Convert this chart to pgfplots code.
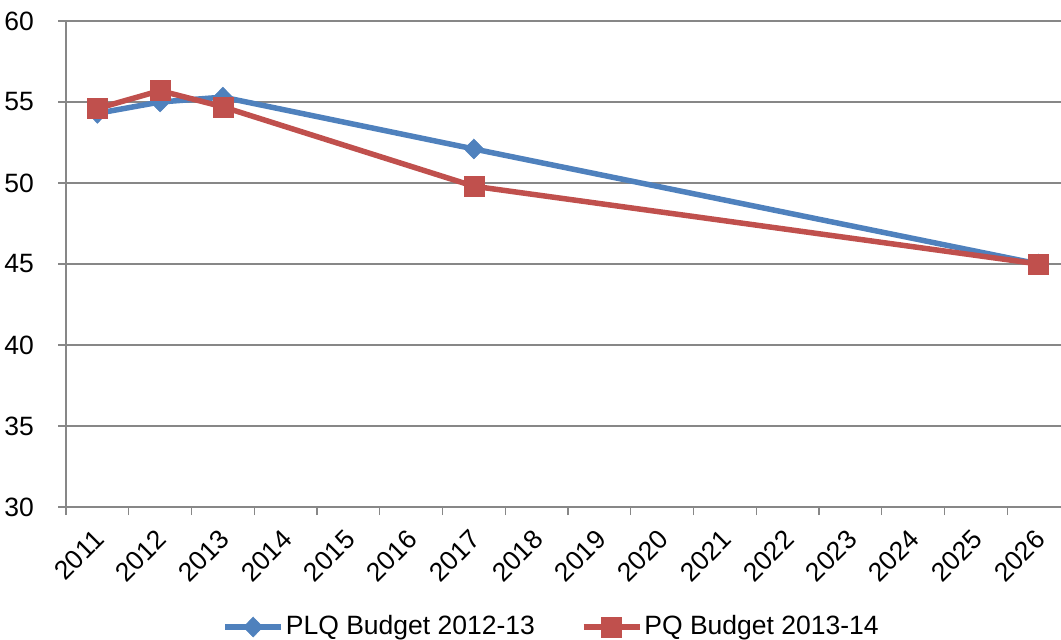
\documentclass[border=0pt]{standalone}
\usepackage{pgfplots}
\pgfplotsset{compat=1.18}
\usepackage{fontspec}
\setmainfont{Liberation Sans}
\definecolor{sblue}{HTML}{4F81BD}
\definecolor{sred}{HTML}{C0504D}
\definecolor{gridc}{HTML}{878787}
\begin{document}
\fontsize{26}{30}\selectfont
\begin{tikzpicture}[x=1pt,y=1pt]
\path[use as bounding box] (0,0) rectangle (1061,640);
\begin{axis}[
  at={(66pt,133pt)}, anchor=south west,
  scale only axis, width=995pt, height=486pt,
  xmin=-0.5, xmax=15.357, ymin=30, ymax=60,
  axis x line*=bottom, axis y line*=left,
  axis line style={gridc, line width=1.3pt, -},
  ytick={30,35,...,60},
  ymajorgrids, major grid style={gridc, line width=1.3pt},
  xtick={-0.5,0.5,...,14.5}, xticklabels={},
  extra x ticks={0,1,...,15},
  extra x tick labels={2011,2012,2013,2014,2015,2016,2017,2018,2019,2020,2021,2022,2023,2024,2025,2026},
  extra x tick style={major tick length=0pt, xticklabel style={xshift=-5pt, yshift=-21pt, rotate=45, anchor=north east, inner sep=0pt}},
  tick align=outside,
  major tick length=8pt,
  tick style={gridc, line width=1.3pt},
  yticklabel style={anchor=east, inner sep=0pt, xshift=-24pt},
  ticklabel style={font=\fontsize{26.5}{30}\selectfont},
  /pgf/number format/assume math mode=true,
  clip=false,
  legend style={at={(0.488,-0.247)}, anchor=center, draw=none, fill=none,
    legend columns=2, font=\fontsize{26.5}{30}\selectfont,
    nodes={inner sep=2pt},
    /tikz/every even column/.append style={column sep=44pt}},
  legend image code/.code={\draw[#1, mark repeat=2, mark phase=2] plot coordinates {(0pt,0pt) (28pt,0pt) (56pt,0pt)};},
]
\addplot[sblue, line width=5.5pt, mark=diamond*, mark size=10pt, mark options={xscale=1.3, line width=0.5pt}]
  coordinates {(0,54.3) (1,55.0) (2,55.3) (6,52.1) (15,45.0)};
\addlegendentry{PLQ Budget 2012-13}
\addplot[sred, line width=5.5pt, mark=square*, mark size=10pt, mark options={line width=0.5pt}]
  coordinates {(0,54.6) (1,55.7) (2,54.7) (6,49.8) (15,45.0)};
\addlegendentry{PQ Budget 2013-14}
\end{axis}
\end{tikzpicture}
\end{document}
